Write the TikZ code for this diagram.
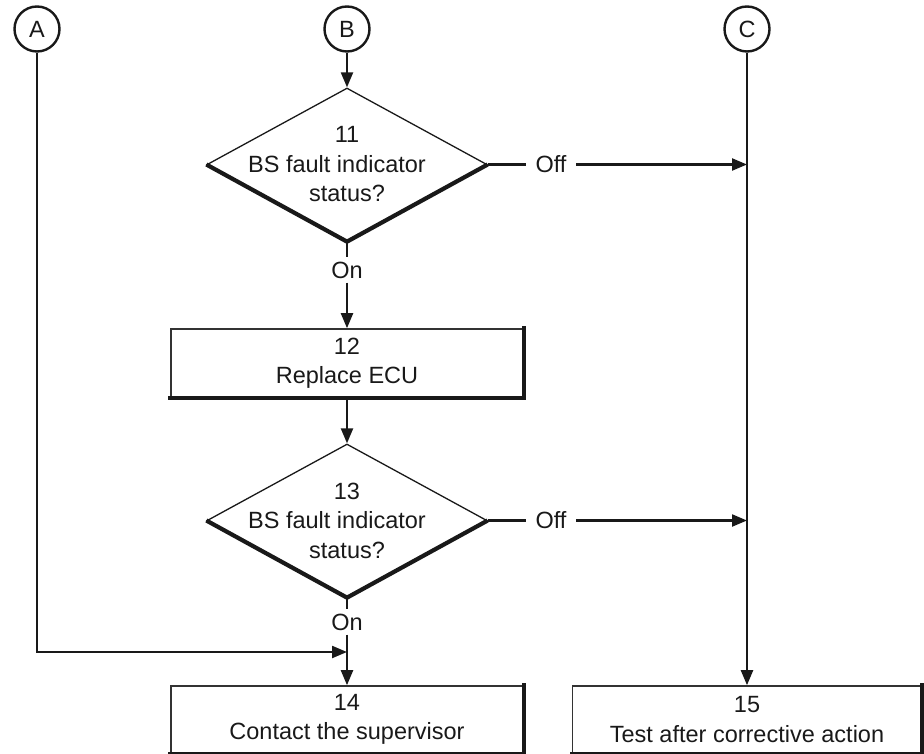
\documentclass[tikz,border=0pt]{standalone}
\usepackage{fontspec}
\setmainfont{Liberation Sans}
\usetikzlibrary{arrows.meta,shapes.geometric}
\begin{document}
\begin{tikzpicture}[x=1pt,y=-1pt,
  every node/.style={font=\fontsize{23.5}{29.5}\selectfont, text=black!90},
  conn/.style={draw=black!90, line width=2.2pt},
  arr/.style={conn, -{Triangle[length=15pt,width=12pt]}},
  connector/.style={circle, draw=black!90, line width=2.4pt, minimum size=45pt, inner sep=0pt},
  decision/.style={diamond, draw=black!90, line width=1.3pt, minimum width=280pt, minimum height=153pt, inner sep=0pt},
  stepbox/.style={rectangle, draw=black!80, line width=1.6pt, inner sep=0pt},
  shadowedge/.style={draw=black!90, line width=4.2pt, line cap=rect},
  answer/.style={inner xsep=9.5pt, inner ysep=4pt},
  caption/.style={align=center, inner sep=0pt}]
\useasboundingbox (0,0) rectangle (924,754);

% off-page connectors
\node[connector] (A) at (37,29) {A};
\node[connector] (B) at (347,29) {B};
\node[connector] (C) at (747,29) {C};

% step 11
\node[decision] (d11) at (347,164.5) {};
\draw[shadowedge, line cap=butt] (d11.west) -- (d11.south) -- (d11.east);
\node[caption] (t11) at (d11) {11\\BS fault indicator\kern20pt\\status?};

% step 12
\node[stepbox, minimum width=352pt, minimum height=68pt] (b12) at (347,363) {};
\draw[shadowedge] (b12.south west) -- (b12.south east) -- (b12.north east);
\node[caption] (t12) at (b12) {12\\Replace ECU};

% step 13
\node[decision] (d13) at (347,520.5) {};
\draw[shadowedge, line cap=butt] (d13.west) -- (d13.south) -- (d13.east);
\node[caption] (t13) at (d13) {13\\BS fault indicator\kern20pt\\status?};

% steps 14 and 15
\node[stepbox, minimum width=352pt, minimum height=67pt] (b14) at (347,719.5) {};
\draw[shadowedge] (b14.south west) -- (b14.south east) -- (b14.north east);
\node[caption] (t14) at (b14) {14\\Contact the supervisor};

\node[stepbox, minimum width=349pt, minimum height=67pt] (b15) at (747,719.5) {};
\draw[shadowedge] (b15.south west) -- (b15.south east) -- (b15.north east);
\node[caption] (t15) at (b15) {15\\Test after corrective action};

% branch labels
\node[answer] (on11) at (347,270) {On};
\node[answer] (off11) at (551,164.5) {Off};
\node[answer] (on13) at (347,622) {On};
\node[answer] (off13) at (551,520.5) {Off};

% junctions on the connector lines
\coordinate (c11) at (747,164.5);
\coordinate (c13) at (747,520.5);
\coordinate (abend) at (37,652);
\coordinate (ajoin) at (347,652);

% connectors
\draw[arr] (B) -- (d11.north);
\draw[conn] (d11.south) -- (on11);
\draw[arr] (on11) -- (b12.north);
\draw[arr] (b12.south) -- (d13.north);
\draw[conn] (d13.south) -- (on13);
\draw[arr] (on13) -- (b14.north);
\draw[conn] (d11.east) -- (off11);
\draw[arr] (off11) -- (c11);
\draw[conn] (d13.east) -- (off13);
\draw[arr] (off13) -- (c13);
\draw[arr] (C) -- (b15.north);
\draw[arr] (A) -- (abend) -- (ajoin);
\end{tikzpicture}
\end{document}
